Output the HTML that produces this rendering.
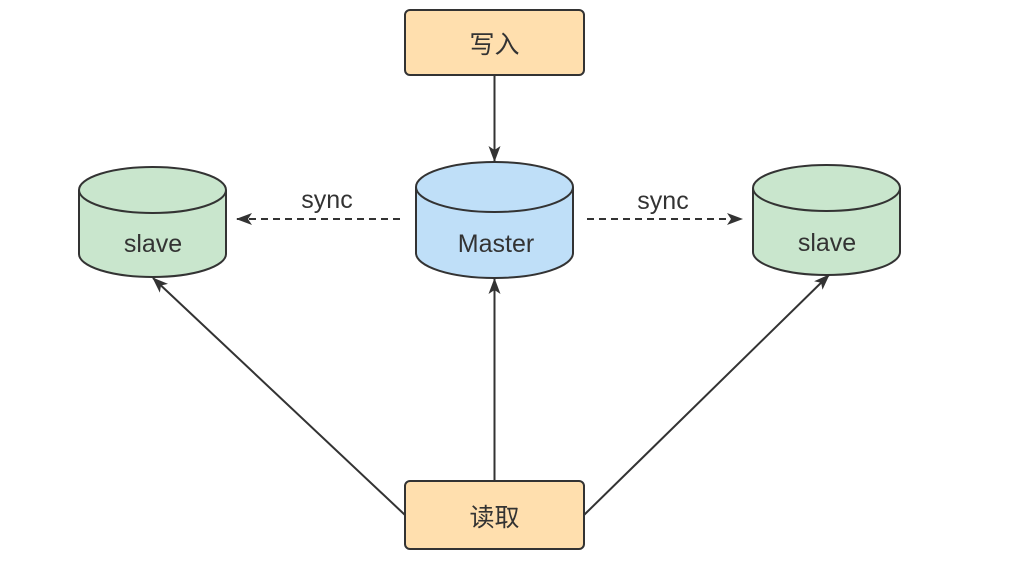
<!DOCTYPE html>
<html><head><meta charset="utf-8"><style>
body{margin:0;background:#fff;}
svg text{font-family:"Liberation Sans","Noto Sans CJK SC",sans-serif;fill:#333;}
</style></head><body>
<svg width="1030" height="565" viewBox="0 0 1030 565" xmlns="http://www.w3.org/2000/svg">
<defs>
<marker id="a" markerWidth="16" markerHeight="12" refX="15" refY="6" orient="auto" markerUnits="userSpaceOnUse">
<path d="M0,0 L16,6 L0,12 L4,6 Z" fill="#333"/></marker>
</defs>
<g stroke="#333" stroke-width="2">
<rect x="405" y="10" width="179" height="65" rx="5" fill="#ffdfae"/>
<rect x="405" y="481" width="179" height="68" rx="5" fill="#ffdfae"/>
<path d="M416,187 L416,253 A78.5,25 0 0 0 573,253 L573,187" fill="#bfdff8"/>
<ellipse cx="494.5" cy="187" rx="78.5" ry="25" fill="#bfdff8"/>
<path d="M79,190 L79,254 A73.5,23 0 0 0 226,254 L226,190" fill="#c9e6cd"/>
<ellipse cx="152.5" cy="190" rx="73.5" ry="23" fill="#c9e6cd"/>
<path d="M753,188 L753,252 A73.5,23 0 0 0 900,252 L900,188" fill="#c9e6cd"/>
<ellipse cx="826.5" cy="188" rx="73.5" ry="23" fill="#c9e6cd"/>
<line x1="494.5" y1="75" x2="494.5" y2="161" marker-end="url(#a)"/>
<line x1="400" y1="219" x2="237" y2="219" stroke-dasharray="7,5" marker-end="url(#a)"/>
<line x1="587" y1="219" x2="742" y2="219" stroke-dasharray="7,5" marker-end="url(#a)"/>
<line x1="494.5" y1="481" x2="494.5" y2="279" marker-end="url(#a)"/>
<line x1="405" y1="515" x2="153" y2="278" marker-end="url(#a)"/>
<line x1="584" y1="515" x2="829" y2="275" marker-end="url(#a)"/>
</g>
<g stroke="none" font-size="25" text-anchor="middle">
<text x="494.5" y="53">写入</text>
<text x="494.5" y="526">读取</text>
<text x="496" y="252">Master</text>
<text x="153" y="252">slave</text>
<text x="827" y="251">slave</text>
<text x="327" y="208">sync</text>
<text x="663" y="209">sync</text>
</g>
</svg>
</body></html>
